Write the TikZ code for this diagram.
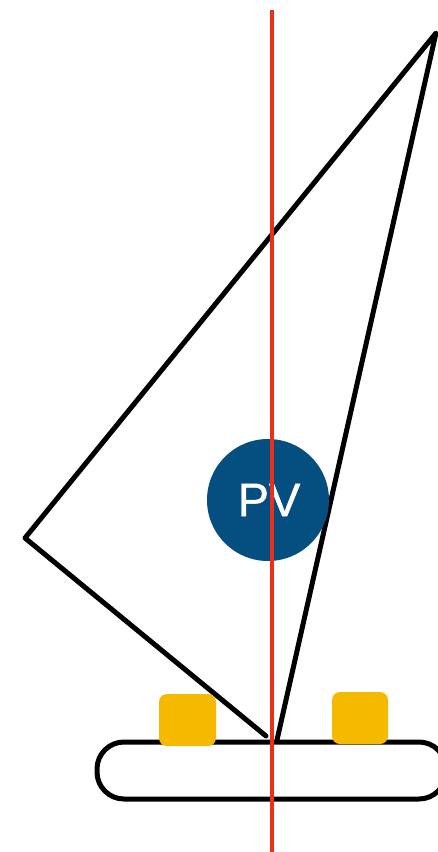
\documentclass[tikz,border=0pt]{standalone}
\usepackage{fontspec}
\setmainfont{Liberation Sans}
\newfontfamily\pvfont[FakeBold=1]{Liberation Sans}
\definecolor{pvblue}{HTML}{044F80}
\definecolor{mastred}{HTML}{E8301C}
\definecolor{boxyellow}{HTML}{F5BA00}
\begin{document}
\begin{tikzpicture}[x=1pt,y=-1pt,
  rig/.style={draw=black,line width=5pt,line join=round,line cap=round},
  hull/.style={draw=black,line width=5pt,rounded corners=27pt},
  cargo/.style={fill=boxyellow,rounded corners=8pt},
  mast/.style={draw=mastred,line width=4.5pt}]
\useasboundingbox (0,0) rectangle (438,852);
\clip (0,0) rectangle (438,852);
\coordinate (top) at (436,33);
\coordinate (left) at (25,538);
\coordinate (footL) at (266,736);
\coordinate (footR) at (277,740);
\coordinate (mastTop) at (272,10);
\coordinate (mastBot) at (272,852);
\draw[rig] (footL) -- (left) -- (top) -- (footR);
\draw[hull] (97,742) rectangle (446,799);
\fill[cargo] (159,694) rectangle (216,746);
\fill[cargo] (332,692) rectangle (388,744);
\node[circle,fill=pvblue,minimum size=122pt,inner sep=0pt,text=white,font=\pvfont\fontsize{47pt}{47pt}\selectfont] (pv) at (268,500) {\kern2pt PV};
\draw[mast] (mastTop) -- (mastBot);
\end{tikzpicture}
\end{document}
